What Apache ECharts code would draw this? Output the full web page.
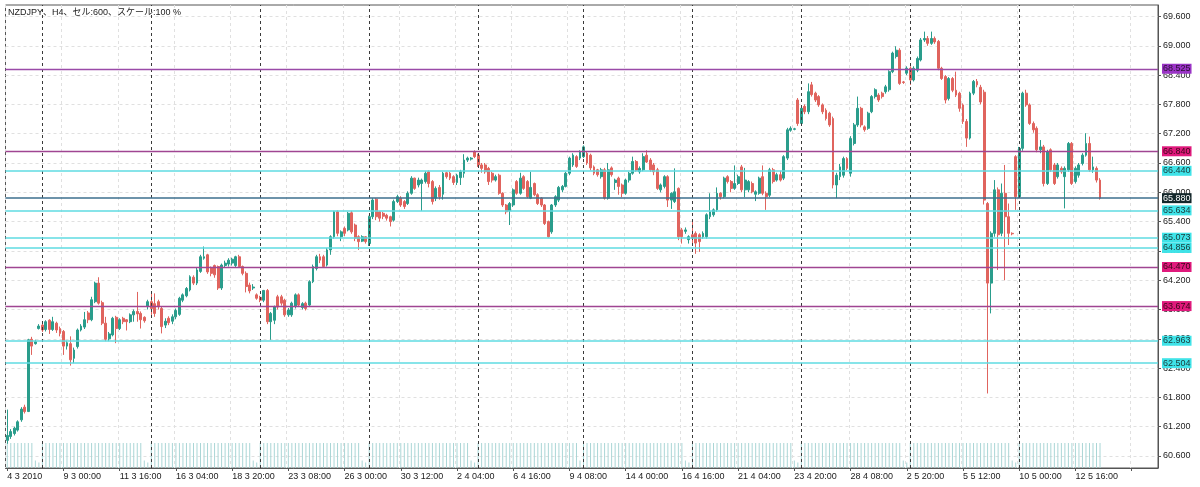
<!DOCTYPE html>
<html><head><meta charset="utf-8">
<script src="https://cdn.jsdelivr.net/npm/echarts@6/dist/echarts.min.js"></script>
<style>html,body{margin:0;padding:0;background:#fff}#c{width:1200px;height:487px}</style>
</head><body><div id="c"></div>
<script>
const titleText = 'NZDJPY、H4、セル:600、スケール:100 %';
const xTickLabels = ['4 3 2010','9 3 00:00','11 3 16:00','16 3 04:00','18 3 20:00','23 3 08:00','26 3 00:00','30 3 12:00','2 4 04:00','6 4 16:00','9 4 08:00','14 4 00:00','16 4 16:00','21 4 04:00','23 4 20:00','28 4 08:00','2 5 20:00','5 5 12:00','10 5 00:00','12 5 16:00'];
const yTicks = [60.6,61.2,61.8,62.4,63.0,63.6,64.2,64.8,65.4,66.0,66.6,67.2,67.8,68.4,69.0,69.6];
// [open, close, low, high]
const ohlc = [
[60.92,61.02,60.85,61.55],[61.00,61.10,60.95,61.15],[61.06,61.17,61.02,61.20],[61.13,61.30,61.10,61.33],
[61.34,61.56,61.30,61.60],[61.60,61.51,61.47,61.65],[61.51,62.98,61.50,63.00],[62.99,62.85,62.67,63.04],
[62.90,62.94,62.88,62.98],[63.21,63.26,63.19,63.30],[63.28,63.18,63.14,63.35],[63.19,63.35,63.15,63.38],
[63.38,63.19,63.10,63.40],[63.19,63.35,63.16,63.45],[63.32,63.18,63.12,63.35],[63.21,63.11,63.05,63.25],
[63.15,62.85,62.67,63.18],[62.85,62.92,62.78,62.96],[62.90,62.57,62.45,63.05],[62.60,62.77,62.50,62.82],
[62.84,63.18,62.80,63.21],[63.18,63.26,63.15,63.30],[63.24,63.39,63.20,63.55],[63.53,63.39,63.32,63.57],
[63.39,63.80,63.36,63.86],[63.76,64.14,63.73,64.17],[64.14,63.73,63.70,64.26],[63.74,63.32,63.28,63.78],
[63.32,62.99,62.95,63.45],[63.00,63.10,62.95,63.14],[63.08,63.42,63.05,63.45],[63.44,63.21,62.91,63.47],
[63.21,63.39,63.18,63.42],[63.42,63.35,63.30,63.45],[63.39,63.35,63.17,63.40],[63.35,63.49,63.32,63.52],
[63.49,63.56,63.35,63.60],[63.56,63.51,63.35,63.96],[63.52,63.39,63.21,63.56],[63.44,63.37,63.33,63.46],
[63.66,63.76,63.60,63.80],[63.76,63.62,63.49,63.93],[63.72,63.52,63.45,63.93],[63.76,63.66,63.60,63.80],
[63.62,63.25,63.11,63.66],[63.28,63.36,63.22,63.42],[63.42,63.33,63.28,63.46],[63.36,63.45,63.30,63.50],
[63.45,63.58,63.40,63.62],[63.50,63.83,63.47,63.86],[63.79,63.90,63.75,63.93],[63.88,64.03,63.85,64.06],
[64.00,64.27,63.97,64.30],[64.26,64.14,64.10,64.30],[64.14,64.41,64.10,64.45],[64.38,64.68,64.35,64.72],
[64.65,64.68,64.62,64.89],[64.72,64.37,64.33,64.74],[64.46,64.34,64.28,64.48],[64.50,64.31,64.25,64.52],
[64.48,64.04,64.00,64.50],[64.04,64.51,64.00,64.54],[64.50,64.55,64.45,64.60],[64.53,64.61,64.48,64.65],
[64.55,64.63,64.50,64.66],[64.50,64.68,64.47,64.70],[64.68,64.48,64.45,64.72],[64.48,64.34,64.30,64.50],
[64.34,64.07,63.95,64.38],[64.10,63.98,63.93,64.15],[64.04,64.06,64.00,64.12],[63.90,63.83,63.80,63.93],
[63.85,63.79,63.75,63.88],[63.79,63.99,63.75,64.00],[63.99,63.35,63.30,64.02],[63.35,63.52,62.98,63.55],
[63.38,63.65,63.30,63.68],[63.86,63.65,63.60,63.90],[63.86,63.73,63.68,63.90],[63.79,63.49,63.45,63.82],
[63.49,63.59,63.45,63.63],[63.49,63.73,63.45,63.76],[63.66,63.90,63.62,63.93],[63.90,63.69,63.65,63.93],
[63.64,63.72,63.60,63.75],[63.73,63.62,63.58,63.76],[63.69,64.17,63.65,64.20],[64.17,64.48,64.14,64.52],
[64.44,64.68,64.40,64.72],[64.68,64.61,64.55,64.74],[64.68,64.48,64.45,64.72],[64.51,64.82,64.48,64.86],
[64.82,65.09,64.72,65.12],[65.09,65.60,65.05,65.62],[65.60,65.16,65.10,65.63],[65.09,65.19,65.00,65.22],
[65.26,65.16,65.10,65.30],[65.23,65.57,65.20,65.60],[65.58,65.19,65.15,65.62],[65.33,65.06,65.00,65.36],
[65.09,64.99,64.82,65.12],[65.00,65.09,64.98,65.12],[65.09,64.99,64.95,65.10],[64.95,65.50,64.90,65.52],
[65.50,65.84,65.45,65.88],[65.86,65.50,65.43,65.88],[65.60,65.47,65.40,65.62],[65.57,65.51,65.45,65.60],
[65.53,65.47,65.42,65.56],[65.50,65.40,65.30,65.52],[65.43,65.81,65.40,65.85],[65.81,65.91,65.78,65.95],
[65.88,65.74,65.70,65.92],[65.81,65.71,65.66,65.84],[65.77,65.98,65.74,66.02],[65.98,66.29,65.95,66.33],
[66.29,66.08,66.05,66.30],[66.15,66.25,66.10,66.30],[66.18,66.25,65.62,66.28],[66.22,66.39,66.18,66.43],
[66.42,66.18,66.10,66.45],[66.22,65.81,65.75,66.25],[65.88,66.08,65.82,66.12],[66.10,65.91,65.85,66.15],
[65.96,66.39,65.85,66.42],[66.40,66.32,66.28,66.42],[66.39,66.29,66.25,66.42],[66.32,66.20,66.15,66.35],
[66.20,66.35,66.15,66.38],[66.30,66.42,66.15,66.46],[66.39,66.66,66.30,66.78],[66.66,66.70,66.62,66.73],
[66.68,66.70,66.65,66.72],[66.83,66.73,66.70,66.86],[66.76,66.56,66.52,66.79],[66.56,66.49,66.40,66.60],
[66.56,66.42,66.38,66.60],[66.49,66.22,66.15,66.52],[66.39,66.25,66.20,66.42],[66.25,66.32,66.22,66.36],
[66.35,65.98,65.95,66.38],[65.98,65.74,65.70,66.00],[65.74,65.60,65.55,65.76],[65.62,65.77,65.33,65.80],
[65.74,66.05,65.70,66.08],[66.22,65.98,65.95,66.25],[65.98,66.29,65.95,66.40],[66.32,66.08,66.05,66.35],
[66.22,65.91,65.88,66.25],[65.88,66.10,65.86,66.42],[66.18,65.95,65.92,66.20],[65.95,65.77,65.74,65.98],
[65.88,65.74,65.70,65.90],[65.74,65.36,65.33,65.76],[65.40,65.09,65.07,65.42],[65.19,65.74,65.15,65.76],
[65.74,65.91,65.70,65.94],[65.84,66.10,65.80,66.13],[66.05,66.12,66.00,66.15],[66.12,66.39,66.10,66.42],
[66.39,66.70,66.35,66.73],[66.56,66.76,66.52,66.80],[66.73,66.53,66.50,66.76],[66.70,66.83,66.66,66.86],
[66.73,66.93,66.70,66.96],[66.80,66.60,66.56,66.83],[66.76,66.50,66.45,66.79],[66.52,66.39,66.35,66.55],
[66.46,66.36,66.32,66.48],[66.32,66.46,66.28,66.50],[66.46,65.88,65.85,66.50],[65.88,66.46,65.85,66.60],
[66.50,66.36,66.32,66.53],[66.20,66.25,66.05,66.28],[66.29,66.12,65.95,66.32],[66.15,65.98,65.90,66.18],
[65.98,66.25,65.95,66.28],[66.25,66.39,66.20,66.42],[66.39,66.63,66.36,66.73],[66.63,66.45,66.42,66.66],
[66.42,66.49,66.38,66.53],[66.46,66.73,66.43,66.80],[66.76,66.62,66.60,66.86],[66.66,66.46,66.42,66.70],
[66.56,66.42,66.35,66.60],[66.46,66.08,66.05,66.50],[66.05,66.15,66.00,66.18],[66.12,66.32,66.08,66.35],
[66.32,65.84,65.70,66.35],[65.84,65.98,65.66,66.00],[65.81,66.01,65.78,66.49],[66.08,65.09,65.02,66.10],
[65.23,65.09,64.95,65.27],[65.20,65.23,65.15,65.28],[65.03,65.09,64.95,65.12],[65.13,65.06,64.95,65.40],
[65.16,64.96,64.74,65.20],[65.13,64.99,64.78,65.16],[65.09,65.16,65.05,65.20],[65.09,65.54,65.05,65.57],
[65.50,65.60,65.45,65.98],[65.54,65.64,65.50,65.67],[65.64,65.98,65.60,66.10],[65.98,65.91,65.85,66.00],
[65.91,66.29,65.88,66.32],[66.32,66.22,66.18,66.35],[66.22,66.08,66.00,66.25],[66.08,66.18,66.05,66.55],
[66.18,66.32,66.15,66.36],[66.52,66.05,66.00,66.56],[66.05,66.25,65.90,66.50],[66.05,66.22,66.00,66.25],
[66.18,66.01,65.98,66.22],[65.96,66.01,65.82,66.04],[65.98,66.29,65.95,66.32],[66.32,65.98,65.94,66.55],
[65.98,65.91,65.64,66.02],[65.94,66.46,65.90,66.50],[66.46,66.22,66.18,66.50],[66.25,66.36,66.22,66.40],
[66.36,66.25,66.22,66.44],[66.29,66.73,66.25,66.76],[66.70,67.28,66.66,67.32],[67.27,67.31,67.24,67.35],
[67.29,67.30,67.27,67.32],[67.89,67.41,67.36,67.93],[67.41,67.72,67.38,67.76],[67.76,67.65,67.60,67.80],
[67.65,68.06,67.60,68.23],[68.20,68.00,67.96,68.26],[68.03,67.89,67.85,68.06],[67.96,67.79,67.75,67.99],
[67.79,67.65,67.60,67.82],[67.68,67.51,67.47,67.72],[67.62,67.38,67.34,67.65],[67.51,66.15,66.08,67.55],
[66.15,66.35,65.88,66.40],[66.32,66.52,66.25,66.58],[66.35,66.69,66.30,66.73],[66.69,66.49,66.45,66.72],
[66.39,67.10,66.32,67.15],[67.00,67.38,66.96,67.42],[67.38,67.72,67.34,67.96],[67.72,67.38,67.33,67.75],
[67.34,67.28,67.24,67.37],[67.31,67.62,67.28,67.65],[67.65,67.96,67.62,67.99],[67.96,68.10,67.92,68.13],
[67.99,67.89,67.85,68.03],[68.03,67.96,67.92,68.06],[68.06,68.16,68.02,68.20],[68.10,68.47,68.06,68.50],
[68.47,68.85,68.44,68.88],[68.78,68.91,68.74,68.99],[68.91,68.23,68.20,68.95],[68.26,68.25,68.22,68.28],
[68.44,68.54,68.40,68.58],[68.54,68.30,68.20,68.58],[68.30,68.54,68.27,68.58],[68.50,68.74,68.46,68.78],
[68.71,69.12,68.68,69.16],[69.12,69.15,69.08,69.29],[69.15,69.05,69.00,69.20],[69.05,69.15,69.02,69.29],
[69.15,69.08,69.04,69.19],[69.09,68.54,68.50,69.12],[68.54,68.33,68.30,68.57],[68.37,67.89,67.82,68.40],
[67.92,68.33,67.88,68.36],[68.33,68.09,68.05,68.36],[68.09,67.99,67.95,68.47],[68.03,67.72,67.65,68.06],
[67.79,67.45,67.40,67.82],[67.45,67.11,66.93,67.50],[67.11,68.03,67.08,68.06],[68.03,68.27,67.99,68.30],
[68.27,68.20,68.15,68.32],[68.15,67.85,67.80,68.20],[68.05,65.84,65.75,68.10],[65.77,64.14,61.88,65.80],
[64.14,65.16,63.52,65.20],[65.16,66.05,65.09,66.25],[66.05,65.13,64.41,66.10],[65.16,65.98,65.10,66.18],
[65.98,65.50,64.20,66.56],[65.50,65.16,64.92,65.77],[65.16,65.15,65.12,65.18],[66.73,65.91,65.64,66.76],
[65.91,66.90,65.88,66.93],[66.90,68.03,66.85,68.06],[68.03,67.79,67.75,68.10],[67.79,67.41,67.38,67.82],
[67.41,67.28,67.22,67.45],[67.31,66.87,66.82,67.35],[66.87,66.93,66.80,67.07],[66.93,66.18,66.12,66.97],
[66.18,66.83,66.15,66.87],[66.87,66.46,66.42,66.90],[66.56,66.18,66.15,66.60],[66.32,66.56,66.28,66.60],
[66.49,66.42,66.38,66.53],[66.32,66.49,65.67,66.53],[66.46,67.00,66.42,67.03],[67.00,66.18,66.15,67.03],
[66.22,66.49,66.18,66.53],[66.35,66.56,66.30,66.60],[66.59,66.76,66.55,66.80],[66.76,67.00,66.73,67.21],
[67.00,66.46,66.42,67.14],[66.46,66.52,66.40,66.73],[66.49,66.25,66.20,66.53],[66.25,65.88,65.85,66.29]
];
const volume = [
1,1,1,1,1,1,1,1,.3,.22,1,1,1,1,1,1,
1,1,1,1,1,1,1,1,1,1,1,1,1,1,1,1,
1,1,1,1,1,1,1,.3,.22,1,1,1,1,1,1,1,
1,1,1,1,1,1,1,1,1,1,1,1,1,1,1,1,
1,1,1,1,1,1,.3,.22,1,1,1,1,1,1,1,1,
1,1,1,1,1,1,1,1,1,1,1,1,1,1,1,1,
1,1,1,1,1,.3,.22,1,1,1,1,1,1,1,1,1,
1,1,1,1,1,1,1,1,1,1,1,1,1,1,1,1,
1,1,1,1,.3,.22,1,1,1,1,1,1,1,1,1,1,
1,1,1,1,1,1,1,1,1,1,1,1,1,1,1,1,
1,1,1,.3,1,1,1,1,1,1,1,1,1,1,1,1,
1,1,1,1,1,1,1,1,1,1,1,1,1,1,1,1,
1,.3,.22,1,1,1,1,1,1,1,1,1,1,1,1,1,
1,1,1,1,1,1,1,1,1,1,1,1,1,1,1,1,
.3,.22,1,1,1,1,1,1,1,1,1,1,1,1,1,1,
1,1,1,1,1,1,1,1,1,1,1,1,1,1,1,.3,
.22,1,1,1,1,1,1,1,1,1,1,1,1,1,1,1,
1,1,1,1,1,1,1,1,1,1,1,1,1,1,.3,.22,
1,1,1,1,1,1,1,1,1,1,1,1,1,1,1,1,
1,1,1,1,1,1,1,1
];
const weekStarts = [10,41,72,103,134,164,195,226,257,288];
const purpleLevels = [68.525];
const pinkLevels = [66.840,64.470,63.674];
const cyanLevels = [66.440,65.634,65.073,64.856,62.963,62.504];
const bidLevel = 65.880;
const slotCount = 328;

const FONT = '"Liberation Sans", "Noto Sans CJK JP", sans-serif';
const cats = Array.from({length: slotCount}, (_, i) => String(i));

function lvl(v, lineColor, lineWidth, bg, fg) {
  return {
    yAxis: v,
    lineStyle: {color: lineColor, width: lineWidth, type: 'solid'},
    label: {show: true, position: 'end', distance: 4, formatter: v.toFixed(3),
      backgroundColor: bg, color: fg, fontSize: 9, fontFamily: FONT,
      padding: [1, 1, 0, 1], lineHeight: 9}
  };
}
const markData = [];
weekStarts.forEach(i => markData.push({
  xAxis: String(i), lineStyle: {color: '#3a3a3a', width: 1, type: [3, 3]}, label: {show: false}
}));
cyanLevels.forEach(v => markData.push(lvl(v, '#5fdbe2', 1.5, '#3fe3e8', '#1a3a3a')));
purpleLevels.forEach(v => markData.push(lvl(v, '#9a4aa8', 1.4, '#9a34c6', '#2a1030')));
pinkLevels.forEach(v => markData.push(lvl(v, '#a04592', 1.4, '#e0197c', '#3a0818')));
markData.push(lvl(bidLevel, '#3d6f8e', 1.5, '#14272a', '#ffffff'));

const chart = echarts.init(document.getElementById('c'), null, {renderer: 'canvas'});
chart.setOption({
  animation: false,
  backgroundColor: '#ffffff',
  title: {text: titleText, left: 8, top: 8, padding: 0,
    textStyle: {fontSize: 9, fontWeight: 'normal', color: '#222', fontFamily: FONT}},
  grid: {left: 5.5, right: 42, top: 5, bottom: 19, show: true, borderColor: '#555', borderWidth: 1},
  xAxis: {
    type: 'category', data: cats, boundaryGap: true,
    axisLine: {show: true, lineStyle: {color: '#555'}},
    axisTick: {show: true, interval: 15, alignWithLabel: true, length: 3, lineStyle: {color: '#555'}},
    axisLabel: {interval: 15, align: 'left', margin: 4, fontSize: 9, color: '#222', fontFamily: FONT,
      formatter: (v, i) => (i % 16 === 0 && xTickLabels[i / 16]) ? xTickLabels[i / 16] : ''},
    splitLine: {show: true, interval: 15, lineStyle: {color: '#e0e0e0', type: [3, 3], width: 1}}
  },
  yAxis: [{
    type: 'value', position: 'right', min: 60.354, max: 69.8355, scale: true,
    axisLine: {show: true, lineStyle: {color: '#555'}},
    axisTick: {show: true, length: 3, customValues: yTicks, lineStyle: {color: '#555'}},
    axisLabel: {customValues: yTicks, margin: 5, fontSize: 9, color: '#222', fontFamily: FONT,
      formatter: v => Number(v).toFixed(3)},
    splitLine: {show: true, lineStyle: {color: '#e0e0e0', type: [3, 3], width: 1}}
  }, {
    type: 'value', min: 0, max: 18.5, show: false, splitLine: {show: false}
  }],
  series: [{
    type: 'bar', xAxisIndex: 0, yAxisIndex: 1, data: volume, barWidth: 1, silent: true,
    itemStyle: {color: '#aad6d6'}, z: 1
  }, {
    type: 'candlestick', data: ohlc, barWidth: 2.4, z: 3,
    itemStyle: {color: '#2a9d8c', color0: '#e0645e', borderColor: '#2a9d8c', borderColor0: '#e0645e', borderWidth: 1},
    markLine: {symbol: ['none', 'none'], silent: true, animation: false, data: markData, z: 4}
  }]
});
</script></body></html>
